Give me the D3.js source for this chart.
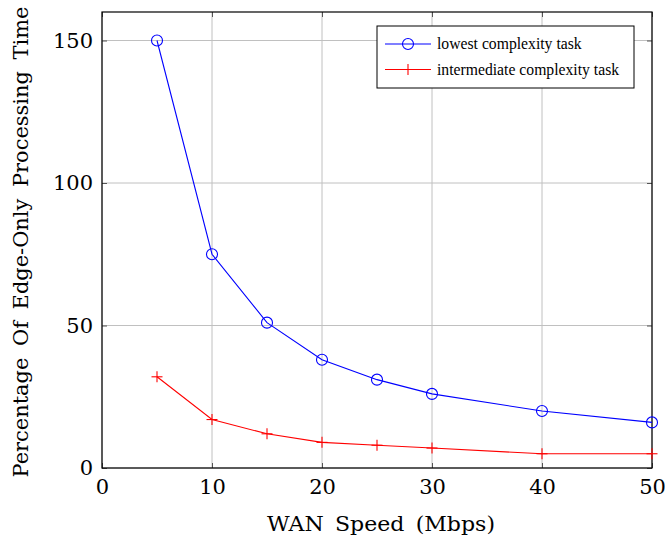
<!DOCTYPE html>
<html>
<head>
<meta charset="utf-8">
<script src="https://cdn.jsdelivr.net/npm/d3@7"></script>
<style>
  body { margin: 0; background: #fff; }
</style>
</head>
<body>
<svg id="chart" width="665" height="539"></svg>
<script>
// WAN speeds (Mbps) and percentage of edge-only processing time
const speeds = [5, 10, 15, 20, 25, 30, 40, 50];
const lowestTask = [150, 75, 51, 38, 31, 26, 20, 16];
const intermediateTask = [32, 17, 12, 9, 8, 7, 5, 5];
const xTicks = [0, 10, 20, 30, 40, 50];
const yTicks = [0, 50, 100, 150];
const seriesNames = ["lowest complexity task", "intermediate complexity task"];
const seriesColors = ["#0000ff", "#ff0000"];

const FONT_BIG = "DejaVu Serif";      // tick labels and axis titles
const FONT_SMALL = "Liberation Serif"; // legend entries

const svg = d3.select("#chart");
const margin = { left: 102, right: 13, top: 12, bottom: 71 };
const W = 665, H = 539;
const x = d3.scaleLinear().domain([0, 50]).range([margin.left, W - margin.right]);
const y = d3.scaleLinear().domain([0, 160]).range([H - margin.bottom, margin.top]);

// grid
const grid = svg.append("g").attr("stroke", "#c0c0c0").attr("stroke-width", 1);
xTicks.forEach(t => grid.append("line")
  .attr("x1", x(t)).attr("x2", x(t)).attr("y1", y(0)).attr("y2", y(160)));
yTicks.forEach(t => grid.append("line")
  .attr("x1", x(0)).attr("x2", x(50)).attr("y1", y(t)).attr("y2", y(t)));

// axes (inward ticks on all four sides)
const tickLen = 5;
const xAxisB = d3.axisBottom(x).tickValues(xTicks).tickSize(-tickLen).tickPadding(11).tickFormat(d3.format("d"));
const xAxisT = d3.axisTop(x).tickValues(xTicks).tickSize(-tickLen).tickFormat("");
const yAxisL = d3.axisLeft(y).tickValues(yTicks).tickSize(-tickLen).tickPadding(9).tickFormat(d3.format("d"));
const yAxisR = d3.axisRight(y).tickValues(yTicks).tickSize(-tickLen).tickFormat("");

function style(g) {
  g.attr("font-family", null).attr("font-size", null);
  g.select(".domain").remove();
  g.selectAll(".tick line").attr("stroke", "#555");
  g.selectAll(".tick text").attr("fill", "#000")
    .attr("font-family", FONT_BIG).attr("font-size", 21);
}
svg.append("g").attr("transform", `translate(0,${y(0)})`).call(xAxisB).call(style);
svg.append("g").attr("transform", `translate(0,${y(160)})`).call(xAxisT).call(style);
svg.append("g").attr("transform", `translate(${x(0)},0)`).call(yAxisL).call(style);
svg.append("g").attr("transform", `translate(${x(50)},0)`).call(yAxisR).call(style);

// frame
svg.append("rect").attr("x", x(0)).attr("y", y(160))
  .attr("width", x(50) - x(0)).attr("height", y(0) - y(160))
  .attr("fill", "none").attr("stroke", "#000").attr("stroke-width", 1.2);

const line = d3.line().x((d, i) => x(speeds[i])).y(d => y(d));

// lowest complexity series: circles
svg.append("path").datum(lowestTask).attr("d", line)
  .attr("fill", "none").attr("stroke", seriesColors[0]).attr("stroke-width", 1.1);
svg.append("g").selectAll("circle").data(lowestTask).join("circle")
  .attr("cx", (d, i) => x(speeds[i])).attr("cy", d => y(d)).attr("r", 5.5)
  .attr("fill", "none").attr("stroke", seriesColors[0]).attr("stroke-width", 1.1);

// intermediate complexity series: plus marks
svg.append("path").datum(intermediateTask).attr("d", line)
  .attr("fill", "none").attr("stroke", seriesColors[1]).attr("stroke-width", 1.1);
const plus = svg.append("g").attr("stroke", seriesColors[1]).attr("stroke-width", 1.1);
intermediateTask.forEach((d, i) => {
  const cx = x(speeds[i]), cy = y(d);
  plus.append("line").attr("x1", cx - 5.5).attr("x2", cx + 5.5).attr("y1", cy).attr("y2", cy);
  plus.append("line").attr("x1", cx).attr("x2", cx).attr("y1", cy - 5.5).attr("y2", cy + 5.5);
});

// legend
const lg = svg.append("g").attr("transform", "translate(377,26)");
lg.append("rect").attr("width", 257).attr("height", 62)
  .attr("fill", "#fff").attr("stroke", "#000").attr("stroke-width", 1);
seriesNames.forEach((name, i) => {
  const cy = 18 + i * 25.5;
  lg.append("line").attr("x1", 8).attr("x2", 54).attr("y1", cy).attr("y2", cy)
    .attr("stroke", seriesColors[i]).attr("stroke-width", 1.1);
  if (i === 0) {
    lg.append("circle").attr("cx", 31).attr("cy", cy).attr("r", 5.5)
      .attr("fill", "none").attr("stroke", seriesColors[i]).attr("stroke-width", 1.1);
  } else {
    lg.append("line").attr("x1", 31).attr("x2", 31).attr("y1", cy - 5.5).attr("y2", cy + 5.5)
      .attr("stroke", seriesColors[i]).attr("stroke-width", 1.1);
  }
  lg.append("text").attr("x", 60).attr("y", cy + 5).text(name)
    .attr("font-family", FONT_SMALL).attr("font-size", 15.7).attr("fill", "#000");
});

// axis titles, fitted to their printed span
svg.append("text").attr("x", 381).attr("y", 531)
  .attr("text-anchor", "middle").attr("font-family", FONT_BIG).attr("font-size", 21)
  .attr("word-spacing", 4)
  .attr("textLength", 228).attr("lengthAdjust", "spacingAndGlyphs")
  .text("WAN Speed (Mbps)");
svg.append("text").attr("transform", "translate(28,242) rotate(-90)")
  .attr("text-anchor", "middle").attr("font-family", FONT_BIG).attr("font-size", 21)
  .attr("word-spacing", 5)
  .attr("textLength", 471).attr("lengthAdjust", "spacingAndGlyphs")
  .text("Percentage Of Edge-Only Processing Time");
</script>
</body>
</html>
